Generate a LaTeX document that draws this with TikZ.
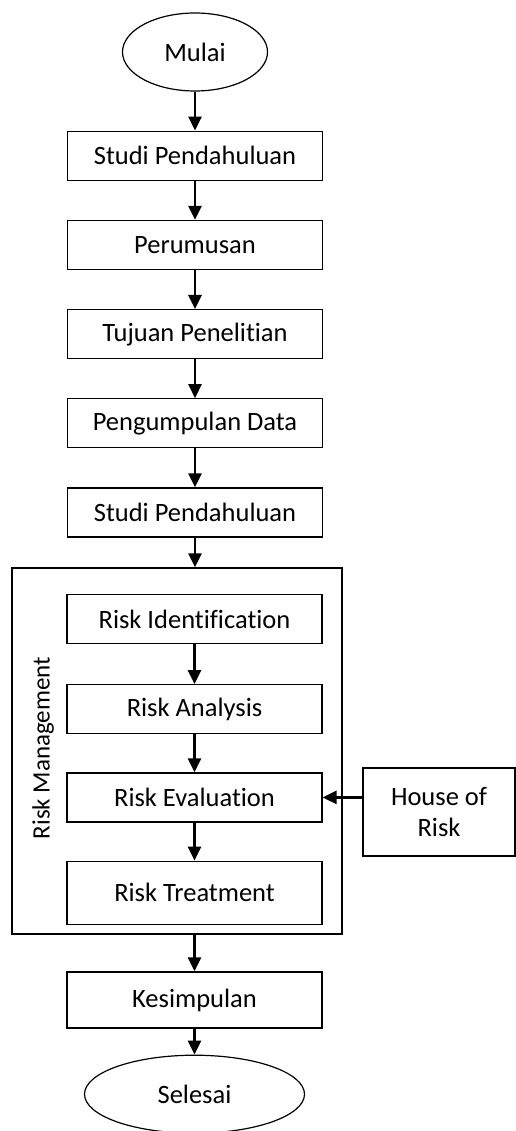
\documentclass[tikz,border=0pt]{standalone}
\usepackage{fontspec}
\setmainfont{Carlito}[Ligatures=NoCommon]
\usetikzlibrary{arrows.meta, positioning, shapes.geometric, fit}

\begin{document}
\begin{tikzpicture}[x=1pt, y=-1pt, node distance=39pt,
		  blok/.style={draw, line width=1.2pt, minimum width=255pt, minimum height=49pt, inner sep=0pt, align=center, font=\fontsize{26.5}{31}\selectfont},
		  ujung/.style={draw, ellipse, line width=1.2pt, inner sep=0pt, font=\fontsize{26.5}{31}\selectfont},
		  panah/.style={-{Triangle[length=14pt, width=13pt]}, line width=2.6pt}]
		  \useasboundingbox (0,0) rectangle (516,1131);
		  
		  \node[ujung, minimum width=145pt, minimum height=78pt] (mulai) at (195,52) {Mulai};
		  \node[blok, below=of mulai] (studi) {Studi Pendahuluan};
		  \node[blok, below=of studi] (rumus) {Perumusan};
		  \node[blok, below=of rumus] (tujuan) {Tujuan Penelitian};
		  \node[blok, below=of tujuan] (data) {Pengumpulan Data};
		  \node[blok, below=of data] (studib) {Studi Pendahuluan};
		  
		  % risk management
		  \node[blok] (ident) at (194.5,619) {Risk Identification};
		  \node[blok, below=40pt of ident] (analisis) {Risk Analysis};
		  \node[blok, below=38pt of analisis] (evaluasi) {Risk Evaluation};
		  \node[blok, below=38pt of evaluasi, minimum height=63pt] (treat) {Risk Treatment};
		  \node[draw, line width=1.2pt, inner sep=0pt, fit={(12,568) (342,934)}] (rm) {};
		  \node[rotate=90, font=\fontsize{25}{30}\selectfont] (rmlabel) at (43,748) {Risk Management};
		  \node[blok, minimum width=152pt, minimum height=88pt] (hor) at (439,812) {House of\\Risk};
		  
		  \node[blok, minimum height=56pt] (kes) at (194.5,1000) {Kesimpulan};
		  \node[ujung, minimum width=220pt, minimum height=78pt, below=26pt of kes] (selesai) {Selesai};
		  
		  \draw[panah] (mulai) -- (studi);
		  \draw[panah] (studi) -- (rumus);
		  \draw[panah] (rumus) -- (tujuan);
		  \draw[panah] (tujuan) -- (data);
		  \draw[panah] (data) -- (studib);
		  \draw[panah] (studib) -- (studib |- rm.north);
		  \draw[panah] (ident) -- (analisis);
		  \draw[panah] (analisis) -- (evaluasi);
		  \draw[panah] (evaluasi) -- (treat);
		  \draw[panah] (hor.west |- evaluasi) -- (evaluasi);
		  \draw[panah] (kes |- rm.south) -- (kes);
		  \draw[panah] (kes) -- (selesai);
		\end{tikzpicture}
\end{document}
